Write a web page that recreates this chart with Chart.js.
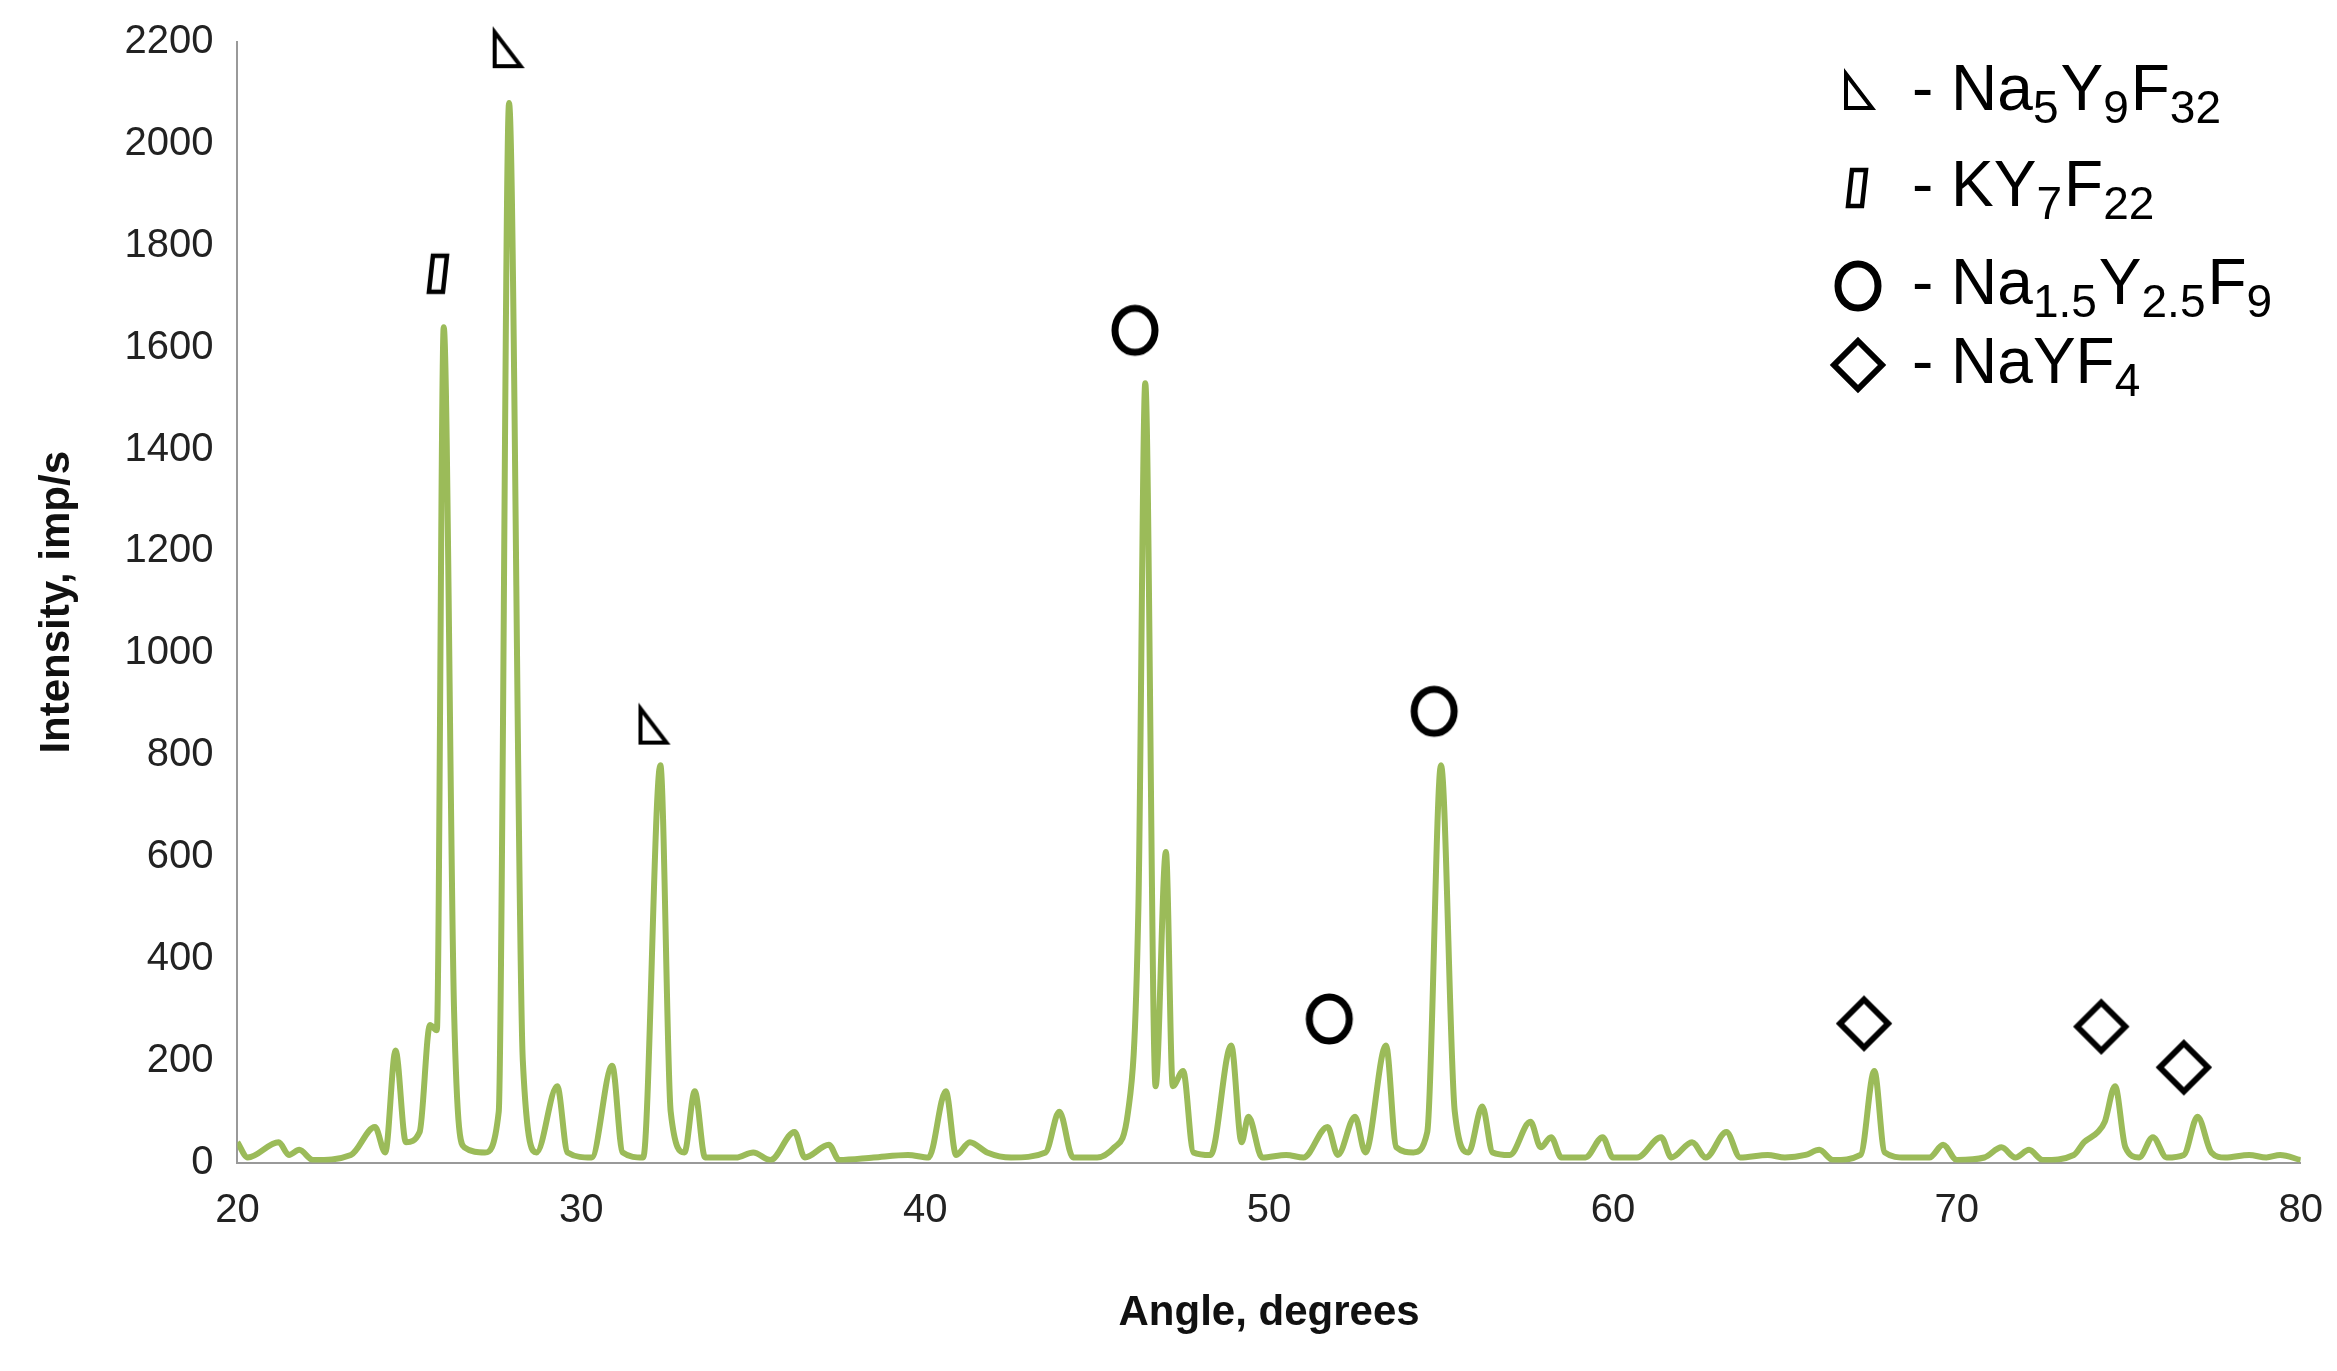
<!DOCTYPE html>
<html>
<head>
<meta charset="utf-8">
<script src="https://cdn.jsdelivr.net/npm/chart.js@4/dist/chart.umd.min.js"></script>
<style>
  html, body { margin: 0; background: #fff; }
  #wrap { width: 2337px; height: 1371px; }
</style>
</head>
<body>
<div id="wrap"><canvas id="xrd"></canvas></div>
<script>
// diffraction pattern
const angles = [20,20.3,21.2,21.5,21.8,22.2,23.3,24,24.3,24.6,24.9,25.3,25.6,25.8,26,26.3,26.6,27.2,27.6,27.9,28.3,28.7,29.3,29.6,30.3,30.9,31.2,31.8,32.3,32.6,33,33.3,33.6,34.5,35,35.5,36.2,36.5,37.2,37.5,38.5,39.5,40.1,40.6,40.9,41.3,41.8,42.5,43.5,43.9,44.3,45,45.5,45.9,46.2,46.4,46.7,47,47.2,47.5,47.8,48.3,48.9,49.2,49.4,49.8,50.5,51,51.7,52,52.5,52.8,53.4,53.7,54.2,54.6,55,55.4,55.8,56.2,56.5,57,57.6,57.9,58.2,58.5,59.2,59.7,60,60.7,61.4,61.7,62.3,62.7,63.3,63.7,64.5,65,65.6,66,66.4,67.2,67.6,67.9,68.5,69.2,69.6,70,70.8,71.3,71.7,72.1,72.5,73.4,73.7,74.1,74.3,74.6,74.9,75.3,75.7,76.1,76.6,77,77.4,77.8,78.5,79,79.4,80];
const intensity = [40,10,40,15,25,5,15,70,20,220,40,60,270,260,1640,300,30,20,100,2080,200,20,150,20,10,190,20,10,780,100,20,140,10,10,20,5,60,10,35,5,10,15,10,140,15,40,20,10,20,100,10,10,30,100,500,1530,150,610,150,180,20,15,230,40,90,10,15,10,70,15,90,20,230,30,20,60,780,100,20,110,20,15,80,30,50,10,10,50,10,10,50,10,40,10,60,10,15,10,15,25,5,15,180,20,10,10,35,5,10,30,10,25,5,15,40,60,80,150,30,10,50,10,15,90,20,10,15,10,15,5];

// phase markers above peaks
const triX = [27.83, 32.07], triY = [2184, 856];
const parX = [25.86], parY = [1745];
const circX = [46.1, 54.8, 51.75], circY = [1634, 886, 282];
const diaX = [67.3, 74.2, 76.6], diaY = [273, 267, 187];

const xTicks = [20, 30, 40, 50, 60, 70, 80];

function glyph(kind) {
  const c = document.createElement('canvas');
  c.width = 60; c.height = 60;
  const g = c.getContext('2d');
  g.strokeStyle = '#000'; g.fillStyle = '#fff'; g.lineJoin = 'miter';
  g.beginPath();
  if (kind === 'tri') {
    g.lineWidth = 4;
    g.moveTo(18, 12); g.lineTo(18, 46); g.lineTo(44, 46); g.closePath();
  } else if (kind === 'par') {
    g.lineWidth = 4.5;
    g.moveTo(24, 12); g.lineTo(38, 12); g.lineTo(34, 48); g.lineTo(20, 48); g.closePath();
  } else if (kind === 'circ') {
    g.lineWidth = 7;
    g.ellipse(30, 30, 20, 22, 0, 0, Math.PI * 2);
  } else {
    g.lineWidth = 6;
    g.moveTo(30, 6); g.lineTo(54, 30); g.lineTo(30, 54); g.lineTo(6, 30); g.closePath();
  }
  g.fill(); g.stroke();
  return c;
}
const icons = { tri: glyph('tri'), par: glyph('par'), circ: glyph('circ'), dia: glyph('dia') };

function markerSet(xs, ys, kind) {
  return {
    type: 'scatter',
    data: xs.map((x, i) => ({ x: x, y: ys[i] })),
    pointStyle: icons[kind],
    pointRadius: 30,
    clip: false
  };
}

// legend with sub-scripted formulas
const legendRows = [
  ['tri', [['- Na', 0], ['5', 1], ['Y', 0], ['9', 1], ['F', 0], ['32', 1]]],
  ['par', [['- KY', 0], ['7', 1], ['F', 0], ['22', 1]]],
  ['circ', [['- Na', 0], ['1.5', 1], ['Y', 0], ['2.5', 1], ['F', 0], ['9', 1]]],
  ['dia', [['- NaYF', 0], ['4', 1]]]
];
const legendPlugin = {
  id: 'formulaLegend',
  afterDraw(chart) {
    const ctx = chart.ctx;
    const rowsY = [92, 188, 286, 365];
    ctx.save();
    ctx.fillStyle = '#000';
    ctx.textBaseline = 'middle';
    legendRows.forEach((row, i) => {
      const y = rowsY[i];
      ctx.drawImage(icons[row[0]], 1858 - 30, y - 30, 60, 60);
      let x = 1912;
      row[1].forEach(p => {
        ctx.font = p[1] ? '46px "Liberation Sans", Arial' : '64px "Liberation Sans", Arial';
        ctx.fillText(p[0], x, p[1] ? y + 18 : y);
        x += ctx.measureText(p[0]).width + (p[1] ? 2 : 0);
      });
    });
    ctx.restore();
  }
};

const tickFont = { size: 40, family: '"Liberation Sans", Arial' };
const titleFont = { size: 42, weight: 'bold', family: '"Liberation Sans", Arial' };

new Chart(document.getElementById('xrd'), {
  type: 'line',
  data: {
    datasets: [
      {
        data: angles.map((a, i) => ({ x: a, y: intensity[i] })),
        borderColor: '#9bbb59',
        borderWidth: 6,
        pointRadius: 0,
        cubicInterpolationMode: 'monotone',
        fill: false
      },
      markerSet(triX, triY, 'tri'),
      markerSet(parX, parY, 'par'),
      markerSet(circX, circY, 'circ'),
      markerSet(diaX, diaY, 'dia')
    ]
  },
  plugins: [legendPlugin],
  options: {
    responsive: true,
    maintainAspectRatio: false,
    animation: false,
    layout: { padding: { left: 28, top: 42, right: 35, bottom: 28 } },
    plugins: { legend: { display: false }, tooltip: { enabled: false } },
    scales: {
      x: {
        type: 'linear', min: 20, max: 80,
        afterBuildTicks: ax => { ax.ticks = xTicks.map(v => ({ value: v })); },
        grid: { display: false, tickLength: 10 },
        border: { color: '#999', width: 2 },
        ticks: { color: '#222', font: tickFont, padding: 14 },
        title: { display: true, text: 'Angle, degrees', color: '#111', font: titleFont, padding: { top: 40 } }
      },
      y: {
        min: 0, max: 2200,
        grid: { display: false, tickLength: 10 },
        border: { color: '#999', width: 2 },
        ticks: { stepSize: 200, color: '#222', font: tickFont, padding: 14, callback: v => String(v) },
        title: { display: true, text: 'Intensity, imp/s', color: '#111', font: titleFont, padding: { bottom: 28 } }
      }
    }
  }
});
</script>
</body>
</html>
